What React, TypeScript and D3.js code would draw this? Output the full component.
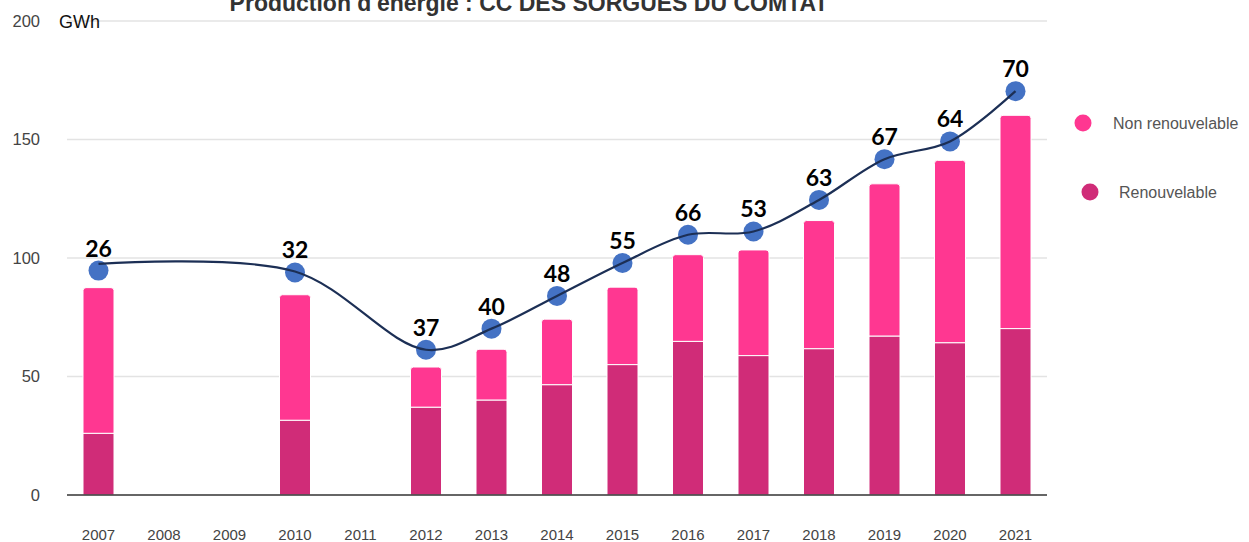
import * as d3 from 'd3'

const years = ['2007', '2008', '2009', '2010', '2011', '2012', '2013', '2014', '2015', '2016', '2017', '2018', '2019', '2020', '2021']
// null = no data that year
const renouvelable = [26, null, null, 31.5, null, 37, 40, 46.5, 55, 64.8, 58.8, 61.7, 67, 64.2, 70.2]
const nonRenouvelable = [61.5, null, null, 53, null, 17, 21.5, 27.7, 32.7, 36.6, 44.6, 54.1, 64.3, 77, 90]
const dotValues = [94.7, null, null, 93.9, null, 61.3, 70.2, 84, 97.9, 109.8, 111.2, 124.5, 141.7, 149.2, 170.4]
const lineValues = [97.5, null, null, 94.3, null, 61.3, 70.2, 84, 97.9, 109.8, 111.2, 124.5, 141.7, 149.2, 170.4]
const dotLabels = ['26', '', '', '32', '', '37', '40', '48', '55', '66', '53', '63', '67', '64', '70']
const yTicks = [0, 50, 100, 150, 200]

const title = "Production d'énergie : CC DES SORGUES DU COMTAT"
const unit = 'GWh'
const legendNames = ['Non renouvelable', 'Renouvelable']

const colNon = '#ff3791'
const colRen = '#d02c78'
const colDot = '#4472c4'
const colLine = '#1c2f55'

export default function App() {
  const width = 1249
  const height = 542
  const left = 67
  const right = 1047

  const x = d3.scalePoint<string>().domain(years).range([98.5, 1015.5])
  const y = d3.scaleLinear().domain([0, 200]).range([495, 21])
  const bw = 31

  const lineData = years
    .map((yr, i) => ({ yr, v: lineValues[i] }))
    .filter(d => d.v != null) as { yr: string; v: number }[]

  const line = d3
    .line<{ yr: string; v: number }>()
    .x(d => x(d.yr) as number)
    .y(d => y(d.v))
    .curve(d3.curveCatmullRom.alpha(0.5))

  const topRounded = (x0: number, y0: number, w: number, h: number, r: number) =>
    `M${x0},${y0 + h}V${y0 + r}Q${x0},${y0} ${x0 + r},${y0}H${x0 + w - r}Q${x0 + w},${y0} ${x0 + w},${y0 + r}V${y0 + h}Z`

  return (
    <svg width={width} height={height} style={{ position: 'absolute', left: 0, top: 0, fontFamily: '"Liberation Sans", Arial, sans-serif' }}>
      <rect width={width} height={height} fill="#fff" />

      {/* grid */}
      {yTicks.map(t => (
        <g key={t}>
          {t > 0 && <line x1={left} x2={right} y1={y(t)} y2={y(t)} stroke="#e3e3e3" strokeWidth={1.5} />}
          <text x={40} y={y(t)} dy="0.36em" textAnchor="end" fontSize={16.5} fill="#444">{t}</text>
        </g>
      ))}

      <text x={59} y={y(200) + 7} fontSize={18} fill="#111">{unit}</text>

      {/* the title is cut by the top edge, as in the source image */}
      <text x={529} y={11} textAnchor="middle" fontSize={23} fontWeight="bold" fill="#333">{title}</text>

      {/* bars */}
      {years.map((yr, i) => {
        const r = renouvelable[i]
        const n = nonRenouvelable[i]
        if (r == null || n == null) return null
        const cx = x(yr) as number
        const x0 = cx - bw / 2
        const yTop = y(r + n)
        const yMid = y(r)
        return (
          <g key={yr}>
            <path d={topRounded(x0, yTop, bw, yMid - yTop, 3)} fill={colNon} stroke="#fff" strokeWidth={1} />
            <rect x={x0} y={yMid} width={bw} height={y(0) - yMid} fill={colRen} stroke="#fff" strokeWidth={1} />
          </g>
        )
      })}

      <line x1={left} x2={right} y1={y(0)} y2={y(0)} stroke="#333" strokeWidth={1.5} />

      {years.map(yr => (
        <text key={yr} x={x(yr)} y={540} textAnchor="middle" fontSize={15} fill="#444">{yr}</text>
      ))}

      {/* dots */}
      {years.map((yr, i) => {
        const v = dotValues[i]
        if (v == null) return null
        return <circle key={yr} cx={x(yr)} cy={y(v)} r={10} fill={colDot} />
      })}

      <path d={line(lineData) || ''} fill="none" stroke={colLine} strokeWidth={2.2} />

      {years.map((yr, i) => {
        const v = dotValues[i]
        if (v == null) return null
        return (
          <text key={yr} x={x(yr)} y={y(v) - 14} textAnchor="middle" fontSize={23} fontWeight="bold" fill="#000" fontFamily="Lato, sans-serif">
            {dotLabels[i]}
          </text>
        )
      })}

      {/* legend */}
      <circle cx={1083} cy={123} r={8.5} fill={colNon} />
      <text x={1113} y={123} dy="0.36em" fontSize={16} fill="#555">{legendNames[0]}</text>
      <circle cx={1090} cy={192} r={8.5} fill={colRen} />
      <text x={1119} y={192} dy="0.36em" fontSize={16} fill="#555">{legendNames[1]}</text>
    </svg>
  )
}
